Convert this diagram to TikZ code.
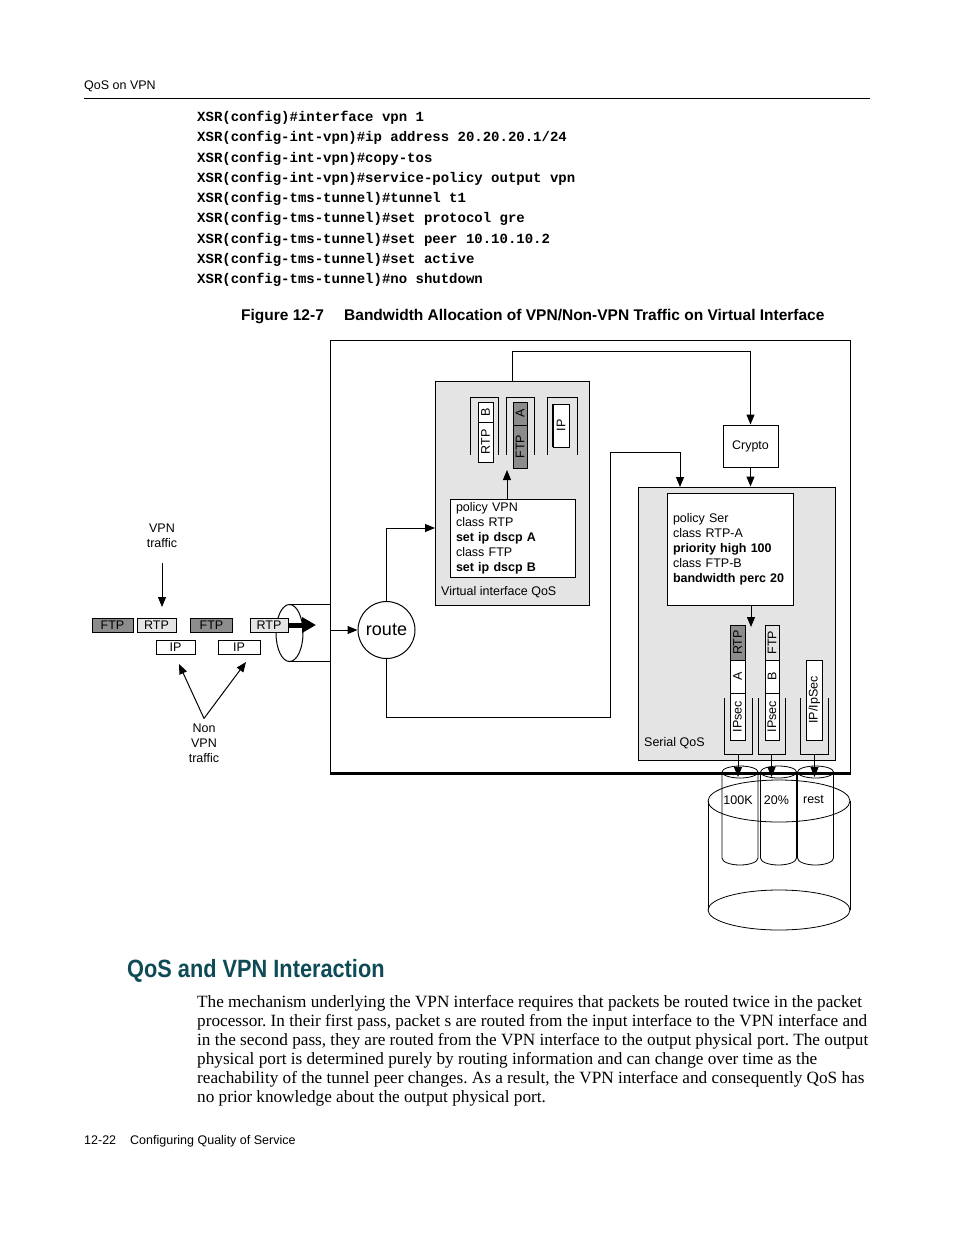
\documentclass[tikz,border=0pt]{standalone}
\usepackage{fontspec}
\setmainfont{Liberation Serif}
\setsansfont{Liberation Sans}
\setmonofont{Liberation Mono}
\newfontfamily\headfont[FakeStretch=0.87]{Liberation Sans}
\usetikzlibrary{arrows.meta,positioning}
\definecolor{PanelGray}{HTML}{E4E4E4}
\definecolor{PktDark}{HTML}{8C8C8C}
\definecolor{PktLight}{HTML}{E4E4E4}
\definecolor{HeadTeal}{HTML}{0E4B57}
\frenchspacing

\begin{document}
\begin{tikzpicture}[
    x=1pt, y=-1pt,
    font=\sffamily\fontsize{12.5}{15}\selectfont,
    txt/.style={inner sep=0pt, align=center},
    panel/.style={rectangle, draw, fill=PanelGray, line width=1pt},
    policy/.style={rectangle, draw, fill=white, line width=1pt, inner xsep=6pt, inner ysep=2pt, align=left},
    pkt/.style={rectangle, draw, line width=0.8pt, inner sep=0pt, minimum height=14pt},
    vpkt/.style={pkt, rotate=90},
    link/.style={line width=1pt},
    arrow/.style={-{Triangle[length=10pt,width=8pt]}, line width=1pt},
    fat/.style={-{Triangle[length=14pt,width=15pt]}, line width=5pt},
    para/.style={inner sep=0pt, anchor=base west, font=\rmfamily\fontsize{17.2}{19}\selectfont}
]
\useasboundingbox[fill=white] (0,0) rectangle (954,1235);

% running head
\node[txt, anchor=west] (runhead) at (84,86) {QoS on VPN};
\draw[line width=0.9pt] (84,98) -- (870,98);

% CLI listing
\node[txt, anchor=north west, align=left, font=\ttfamily\bfseries\fontsize{14}{20.25}\selectfont] (cli) at (197,111)
  {XSR(config)\#interface vpn 1\\
   XSR(config-int-vpn)\#ip address 20.20.20.1/24\\
   XSR(config-int-vpn)\#copy-tos\\
   XSR(config-int-vpn)\#service-policy output vpn\\
   XSR(config-tms-tunnel)\#tunnel t1\\
   XSR(config-tms-tunnel)\#set protocol gre\\
   XSR(config-tms-tunnel)\#set peer 10.10.10.2\\
   XSR(config-tms-tunnel)\#set active\\
   XSR(config-tms-tunnel)\#no shutdown};

% caption
\node[txt, anchor=base west, font=\sffamily\bfseries\fontsize{15.5}{18}\selectfont] (fignum) at (241,320) {Figure 12-7};
\node[txt, anchor=base west, font=\sffamily\bfseries\fontsize{15.5}{18}\selectfont] (figtitle) at (344,320)
  {Bandwidth Allocation of VPN/Non-VPN Traffic on Virtual Interface};

% frames
\node[panel, fill=white, minimum width=520pt, minimum height=433pt] (outer) at (590,556.5) {};
\draw[line width=1.5pt] (outer.north east) -- (outer.south east);
\draw[line width=2.4pt] (outer.south east) -- (outer.south west);
\node[panel, minimum width=154pt, minimum height=224pt] (vqos) at (512,493) {};
\draw[line width=1.5pt] (vqos.north east) -- (vqos.south east) -- (vqos.south west);
\node[panel, minimum width=197pt, minimum height=273pt] (sqos) at (736.5,623.5) {};
\draw[line width=1.8pt] (sqos.north east) -- (sqos.south east) -- (sqos.south west);
\node[txt, anchor=west] (vqoslbl) at (441,592) {Virtual interface QoS};
\node[txt, anchor=west] (sqoslbl) at (644,743) {Serial QoS};

% policies
\node[policy, minimum width=125pt, minimum height=78pt, text width=113pt] (pvpn) at (512.5,538.5)
  {policy VPN\\class RTP\\\textbf{set ip dscp A}\\class FTP\\\textbf{set ip dscp B}};
\node[policy, minimum width=126pt, minimum height=112pt, text width=114pt] (pser) at (730,549)
  {policy Ser\\class RTP-A\\\textbf{priority high 100}\\class FTP-B\\\textbf{bandwidth perc 20}};
\node[rectangle, draw, fill=white, line width=1pt, minimum width=55pt, minimum height=42pt] (crypto) at (750.5,446) {Crypto};
\node[circle, draw, line width=1pt, minimum size=57pt, inner sep=0pt, font=\sffamily\fontsize{18}{20}\selectfont] (route) at (386.5,630) {route};

% virtual interface queues
\draw[link] (470,455) |- (498,397) -- (498,455);
\draw[link] (506,455) |- (534,397) -- (534,455);
\draw[link] (547,455) |- (577,397) -- (577,455);
\node[vpkt, fill=white, minimum width=20pt, minimum height=15pt] (vb) at (485.5,412) {B};
\node[vpkt, fill=white, minimum width=40pt, minimum height=15pt] (vrtp) at (485.5,442) {RTP};
\node[vpkt, fill=PktDark, minimum width=23pt, minimum height=14pt] (va) at (520,413.5) {A};
\node[vpkt, fill=PktDark, minimum width=43pt, minimum height=14pt] (vftp) at (520,446.5) {FTP};
\node[vpkt, fill=white, minimum width=43pt, minimum height=16pt] (vip) at (561,425.5) {IP};
\draw[line width=2pt] (vip.north west) -- (vip.north east);

% serial queues
\draw[link] (724,698) |- (752,754) -- (752,698);
\draw[link] (758,698) |- (785,754) -- (785,698);
\draw[link] (800,698) |- (828,754) -- (828,698);
\node[vpkt, fill=PktDark, minimum width=35pt, minimum height=15pt] (srtp) at (737.5,642.5) {RTP};
\node[vpkt, fill=white, minimum width=33pt, minimum height=15pt] (sa) at (737.5,676.5) {A};
\node[vpkt, fill=white, minimum width=47pt, minimum height=15pt] (sipa) at (737.5,716.5) {IPsec};
\node[vpkt, fill=PktLight, minimum width=35pt, minimum height=14pt] (sftp) at (772,642.5) {FTP};
\node[vpkt, fill=white, minimum width=33pt, minimum height=14pt] (sb) at (772,676.5) {B};
\node[vpkt, fill=white, minimum width=47pt, minimum height=14pt] (sipb) at (772,716.5) {IPsec};
\node[vpkt, fill=white, minimum width=80pt, minimum height=16pt] (sipc) at (814.5,700) {IP/IpSec};

% flow inside the box
\coordinate (vin) at (435,528);
\coordinate (vq) at (507,470);
\coordinate (sq) at (751,627);
\coordinate (sin) at (680,487);
\draw[arrow] (route.north) |- (vin);
\draw[arrow] (pvpn.north -| vq) -- (vq);
\draw[arrow] (vqos.north) -- ++(0,-29) -| (crypto.north);
\draw[arrow] (crypto.south) -- (crypto.south |- sqos.north);
\draw[arrow] (route.south) |- (610,717) |- (680,452) -- (sin);
\draw[arrow] (pser.south -| sq) -- (sq);

% incoming traffic
\draw[link] (289.5,633) ellipse [x radius=13.5, y radius=28.5];
\draw[link] (289.5,604.5) -- (330,604.5);
\draw[link] (289.5,661.5) -- (330,661.5);
\node[pkt, fill=PktDark, minimum width=41pt] (ftpa) at (112.5,625) {FTP};
\node[pkt, fill=PktLight, minimum width=39pt] (rtpa) at (156.5,625) {RTP};
\node[pkt, fill=PktDark, minimum width=42pt] (ftpb) at (211.5,625) {FTP};
\node[pkt, fill=PktLight, minimum width=38pt] (rtpb) at (269,625) {RTP};
\node[pkt, fill=white, minimum width=39pt] (ipa) at (175.5,647) {IP};
\node[pkt, fill=white, minimum width=42pt] (ipb) at (239,647) {IP};
\coordinate (tun) at (316,625);
\draw[fat] (rtpb.east) -- (tun);
\draw[arrow] (outer.west |- route) -- (route.west);

\node[txt] (vpnlbl) at (162,536) {VPN\\traffic};
\coordinate (vpnin) at (162,607);
\draw[arrow] (162,563) -- (vpnin);
\node[txt] (nonvpn) at (204,743) {Non\\VPN\\traffic};
\coordinate (nva) at (179,664);
\coordinate (nvb) at (246,662);
\draw[arrow] (nonvpn.north) ++(0,-5) -- (nva);
\draw[arrow] (nonvpn.north) ++(0,-5) -- (nvb);

% output storage
\draw[line width=0.8pt] (779,801) ellipse [x radius=71, y radius=21];
\draw[line width=0.8pt] (779,910) ellipse [x radius=71, y radius=20];
\draw[line width=0.8pt] (708,801) -- (708,910);
\draw[line width=0.8pt] (850,801) -- (850,910);
\foreach \cx/\lbl/\k in {740/100K/1, 778.5/20\%/2, 815.5/rest/3} {
  \draw[line width=0.8pt] (\cx,772) ellipse [x radius=18, y radius=6];
  \draw[line width=0.8pt] (\cx-18,772) -- (\cx-18,858) arc[start angle=180, end angle=0, x radius=18, y radius=7] -- (\cx+18,772);
  \node[txt] (bw\k) at (\cx-2,800) {\lbl};
}
\draw[arrow] (738,754) -- (738,777);
\draw[arrow] (771.5,754) -- (771.5,777);
\draw[arrow] (814.5,754) -- (814.5,777);

% section text
\node[txt, anchor=base west, font=\headfont\bfseries\fontsize{25}{30}\selectfont, text=HeadTeal] (sechead) at (127,977) {QoS and VPN Interaction};
\node[para] (p1) at (197,1007) {The mechanism underlying the VPN interface requires that packets be routed twice in the packet};
\node[para] (p2) at (197,1026) {processor. In their first pass, packet s are routed from the input interface to the VPN interface and};
\node[para] (p3) at (197,1045) {in the second pass, they are routed from the VPN interface to the output physical port. The output};
\node[para] (p4) at (197,1064) {physical port is determined purely by routing information and can change over time as the};
\node[para] (p5) at (197,1083) {reachability of the tunnel peer changes. As a result, the VPN interface and consequently QoS has};
\node[para] (p6) at (197,1102) {no prior knowledge about the output physical port.};

% footer
\node[txt, anchor=base west] (pgno) at (84,1144) {12-22};
\node[txt, anchor=base west] (chap) at (130,1144) {Configuring Quality of Service};
\end{tikzpicture}
\end{document}
